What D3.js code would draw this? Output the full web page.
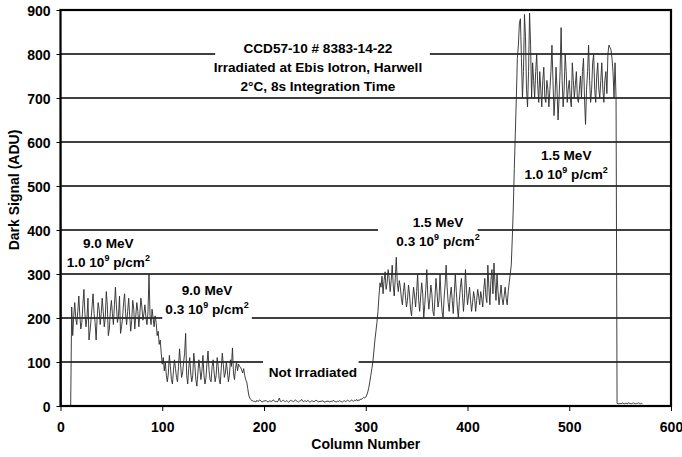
<!DOCTYPE html>
<html>
<head>
<meta charset="utf-8">
<script src="https://cdn.jsdelivr.net/npm/d3@7/dist/d3.min.js"></script>
<style>
  html, body { margin: 0; padding: 0; background: #fff; }
  svg { display: block; }
  text { font-family: "Liberation Sans", Arial, sans-serif; font-weight: bold; fill: #000; }
</style>
</head>
<body>
<svg id="chart" width="682" height="457"></svg>
<script>
// ---------------- DATA ----------------
const xTicks = [0, 100, 200, 300, 400, 500, 600];
const yTicks = [0, 100, 200, 300, 400, 500, 600, 700, 800, 900];

// dark signal per column, segment by segment (consecutive columns starting at 0)
const unirradiatedStart = [900, 0, 0, 0, 0, 0, 0, 0, 0, 0, 0];
const mev9High = [
  225,160,205,235,200,185,215,250,205,175,
  190,230,265,210,180,200,245,150,170,195,
  225,255,210,190,150,200,235,220,185,210,
  245,215,180,200,260,230,160,175,215,240,
  210,185,230,270,225,190,205,250,165,180,
  200,235,255,210,185,215,245,205,170,195,
  240,220,175,205,235,215,180,210,245,225,
  195,210,230,200,185,215,300,205,185,220,
  200,180,205,190,160,170,140,150,120,95,110
];
const mev9Low = [
  80,100,70,55,75,115,90,60,50,80,
  105,85,65,55,90,130,95,65,75,100,
  120,165,70,50,85,110,75,55,70,120,
  95,60,45,75,105,85,60,80,115,70,
  50,65,100,125,80,60,55,90,105,75,
  55,70,110,90,60,50,85,120,95,65,
  75,100,80,55,70,105,90,132,75,60,
  85,100,80,95,90,88,82,75,85,70,
  60,55,40,25,18,15,12
];
const notIrradiated = [
  12,10,11,9,13,10,12,14,11,9,
  10,12,11,13,10,9,11,12,10,11,
  14,12,10,11,9,12,18,11,10,12,
  13,11,10,12,11,9,10,13,12,11,
  10,12,14,11,10,9,11,12,15,11,
  10,12,11,10,13,11,9,10,12,11,
  10,11,13,12,10,9,11,10,12,11,
  10,8,11,10,12,9,10,11,10,13,
  11,10,9,11,10,12,11,10,9,11,
  12,10,11,13,12,10,11,14,12,11,
  13,12,15,11,14,13,16,15,18,20
];
const riseToLowDose = [18,20,25,32,42,55,70,85,100,125,150,170,190,215,250,280];
const mev15Low = [
  270,295,255,285,305,265,280,310,290,260,
  285,320,275,250,290,338,280,260,285,270,
  245,230,260,280,250,225,240,275,255,220,
  205,240,270,250,225,260,300,240,215,250,
  280,255,200,230,265,310,250,220,245,275,
  255,215,205,245,290,260,225,240,300,250,
  215,200,245,275,320,270,235,215,250,270,
  240,210,255,300,260,225,200,240,270,290,
  255,215,245,310,265,230,250,270,240,215,
  235,260,245,215,240,265,250,230,260,245,
  225,265,290,250,235,320,270,230,285,310,
  255,325,280,240,300,260,230,250,275,245,
  230,250,270,245,230,260,280,300,320,380
];
const riseToHighDose = [450,540,620,700,790];
const mev15High = [
  820,870,880,790,700,760,890,840,720,680,
  760,893,820,700,780,740,700,760,800,730,
  690,760,720,680,740,770,700,690,740,720,
  680,720,760,820,740,660,700,770,720,650,
  700,760,860,740,680,720,800,760,690,720,
  740,700,680,780,740,700,730,760,700,690,
  720,750,700,760,790,700,640,720,760,820,
  740,690,720,780,800,720,690,750,780,720,
  700,740,780,720,690,740,760,710,800,820,
  815,810,790,760,700,780,700
];
const unirradiatedEnd = [6,5,5,6,5,7,6,5,6,6,5,7,6,6,5,6,7,6,5,6,6,7,6,5,6,5];

const signal = [].concat(unirradiatedStart, mev9High, mev9Low, notIrradiated,
  riseToLowDose, mev15Low, riseToHighDose, mev15High, unirradiatedEnd);
const points = signal.map((v, i) => ({ col: i, v: v }));

// ---------------- CHART ----------------
const svg = d3.select("#chart");
const pL = 60.5, pR = 671, pT = 10, pB = 406;
const x = d3.scaleLinear().domain([0, 600]).range([pL, pR]);
const y = d3.scaleLinear().domain([0, 900]).range([pB, pT]);

// gridlines
svg.append("g").selectAll("line")
  .data(yTicks.filter(t => t > 0 && t < 900))
  .join("line")
  .attr("x1", pL).attr("x2", pR)
  .attr("y1", d => y(d)).attr("y2", d => y(d))
  .attr("stroke", "#000").attr("stroke-width", 1.6);

// white label backgrounds (break the gridlines)
const boxes = [
  { x0: 152, x1: 363, y0: 838, y1: 707 },
  { x0: 100, x1: 188, y0: 293, y1: 196 },
  { x0: 199, x1: 293, y0: 110, y1: 57 },
  { x0: 312, x1: 410, y0: 440, y1: 355 }
];
svg.append("g").selectAll("rect").data(boxes).join("rect")
  .attr("x", d => x(d.x0)).attr("width", d => x(d.x1) - x(d.x0))
  .attr("y", d => y(d.y0)).attr("height", d => y(d.y1) - y(d.y0))
  .attr("fill", "#fff");

// data line
svg.append("path")
  .datum(points)
  .attr("fill", "none")
  .attr("stroke", "#2a2a2a")
  .attr("stroke-width", 0.9)
  .attr("stroke-linejoin", "round")
  .attr("d", d3.line().x(d => x(d.col)).y(d => y(d.v)));

// axes
const xAxis = d3.axisBottom(x).tickValues(xTicks).tickSize(5).tickSizeOuter(0);
const yAxis = d3.axisLeft(y).tickValues(yTicks).tickSize(4).tickSizeOuter(0);
const gx = svg.append("g").attr("transform", `translate(0,${pB})`).call(xAxis);
const gy = svg.append("g").attr("transform", `translate(${pL},0)`).call(yAxis);
[gx, gy].forEach(g => {
  g.select(".domain").remove();
  g.selectAll(".tick line").attr("stroke", "#000").attr("stroke-width", 1);
  g.selectAll(".tick text").attr("font-size", 14).attr("font-family", "Liberation Sans, Arial, sans-serif")
    .attr("font-weight", "bold").attr("fill", "#000");
});
gx.selectAll(".tick text").attr("dy", "1.25em");
gy.selectAll(".tick text").attr("x", -10).attr("dy", "0.36em");

// frame
svg.append("rect")
  .attr("x", pL).attr("y", pT).attr("width", pR - pL).attr("height", pB - pT)
  .attr("fill", "none").attr("stroke", "#000").attr("stroke-width", 2.2);

// axis titles
svg.append("text").attr("x", (pL + pR) / 2).attr("y", 449)
  .attr("text-anchor", "middle").attr("font-size", 14).text("Column Number");
svg.append("text").attr("transform", `translate(19,190) rotate(-90)`)
  .attr("text-anchor", "middle").attr("font-size", 14).text("Dark Signal (ADU)");

// annotations
const fs = 13.6;
function label(cx, cy, lines) {
  const t = svg.append("text").attr("text-anchor", "middle").attr("font-size", fs);
  lines.forEach((ln, i) => {
    const row = t.append("tspan").attr("x", cx).attr("y", cy + i * 19);
    if (typeof ln === "string") { row.text(ln); return; }
    row.text(ln[0] + " 10");
    t.append("tspan").attr("font-size", 9).attr("dy", -6).text("9");
    t.append("tspan").attr("dy", 6).text(" p/cm");
    t.append("tspan").attr("font-size", 9).attr("dy", -6).text("2");
  });
}
function labelTitle(cx, cy, lines) {
  lines.forEach((ln, i) => {
    svg.append("text").attr("x", cx).attr("y", cy + i * 19)
      .attr("text-anchor", "middle").attr("font-size", fs).text(ln);
  });
}
labelTitle(x(253), 53, ["CCD57-10  # 8383-14-22", "Irradiated at Ebis Iotron, Harwell", "2°C, 8s Integration Time"]);
label(x(47), 248, ["9.0 MeV", ["1.0"]]);
label(x(144), 295, ["9.0 MeV", ["0.3"]]);
label(x(371), 227, ["1.5 MeV", ["0.3"]]);
label(x(497), 160, ["1.5 MeV", ["1.0"]]);
svg.append("text").attr("x", x(248)).attr("y", 377).attr("text-anchor", "middle")
  .attr("font-size", fs).text("Not Irradiated");
</script>
</body>
</html>
